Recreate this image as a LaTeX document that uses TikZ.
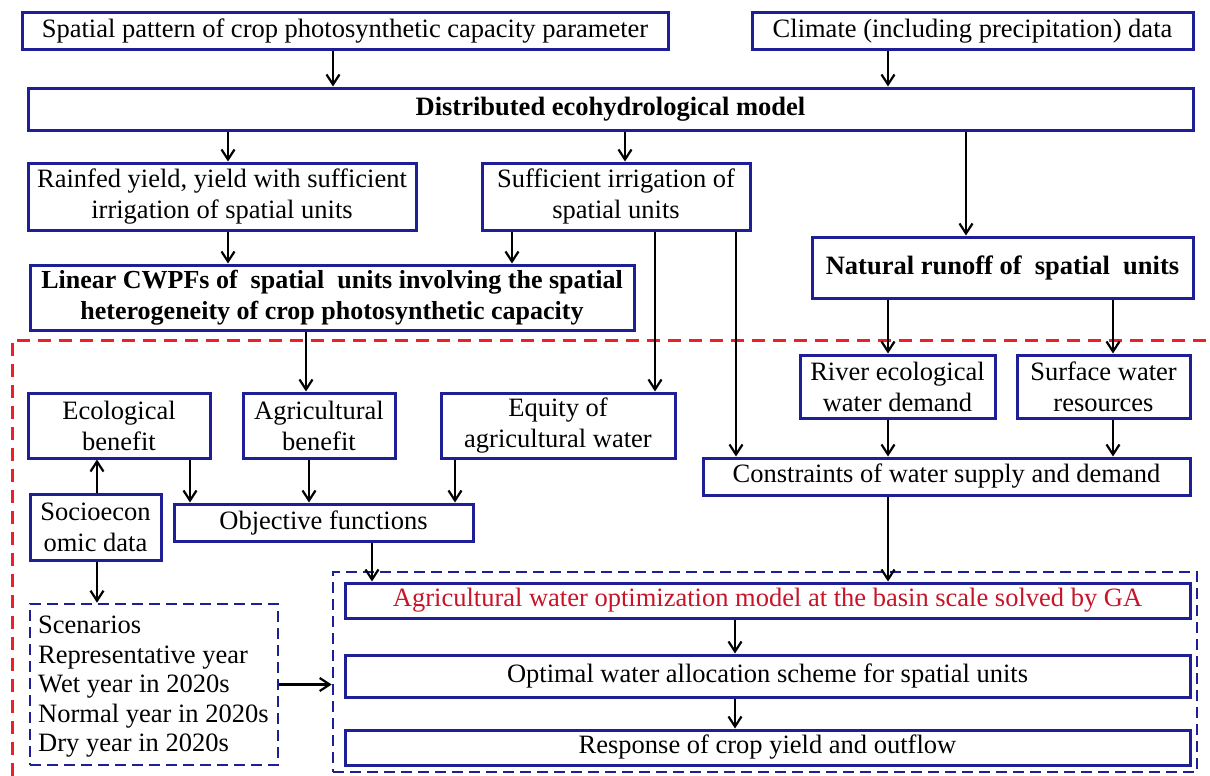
\documentclass[tikz,border=0pt]{standalone}
\usepackage{fontspec}
\setmainfont{Liberation Serif}
\usetikzlibrary{arrows.meta}
\definecolor{boxblue}{RGB}{30,30,150}
\definecolor{dashred}{RGB}{240,30,40}
\definecolor{txtred}{RGB}{200,20,40}
\begin{document}
\begin{tikzpicture}[x=1pt,y=-1pt,
  box/.style={draw=boxblue,line width=3pt,inner sep=0pt,align=center,
    font=\fontsize{26.5}{31}\selectfont},
  dbox/.style={draw=boxblue,line width=2.6pt,dash pattern=on 11pt off 6pt,inner sep=0pt},
  arr/.style={draw=black,line width=2.2pt,-{Straight Barb[length=10pt,width=13pt,line width=2.2pt]}}]
\useasboundingbox (0,0) rectangle (1210,776);
\fill[white] (0,0) rectangle (1210,776);
% red dashed region
\draw[dashred,line width=3pt,dash pattern=on 13pt off 8pt] (12,776) -- (12,340) -- (1210,340);
% nodes
\node[box,minimum width=646,minimum height=37] (spat) at (345,31.5) {Spatial pattern of crop photosynthetic capacity parameter};
\node[box,minimum width=441,minimum height=37] (clim) at (972.5,31.5) {Climate (including precipitation) data};
\node[box,minimum width=1165,minimum height=42] (deh) at (610.5,109) {\bfseries Distributed ecohydrological model};
\node[box,minimum width=388,minimum height=67] (rain) at (222,196.5) {Rainfed yield, yield with sufficient\\irrigation of spatial units};
\node[box,minimum width=268,minimum height=67] (suff) at (616,196.5) {Sufficient irrigation of\\spatial units};
\node[box,minimum width=604,minimum height=65,font=\fontsize{26}{31}\selectfont\bfseries] (cwpf) at (332,297.5) {Linear CWPFs of\ \ spatial\ \ units involving the spatial\\heterogeneity of crop photosynthetic capacity};
\node[box,minimum width=381,minimum height=61] (nat) at (1002.5,267.5) {\bfseries Natural runoff of\ \ spatial\ \ units};
\node[box,minimum width=195,minimum height=63] (river) at (897.5,386.5) {River ecological\\water demand};
\node[box,minimum width=173,minimum height=63] (surf) at (1103.5,386.5) {Surface water\\resources};
\node[box,minimum width=182,minimum height=65] (eco) at (119,425.5) {Ecological\\benefit};
\node[box,minimum width=152,minimum height=65] (agb) at (319,425.5) {Agricultural\\benefit};
\node[box,minimum width=234,minimum height=65] (equ) at (558,425.5) {Equity of\\agricultural water};
\node[box,minimum width=487,minimum height=37] (cons) at (946.5,476.5) {Constraints of water supply and demand};
\node[box,minimum width=131,minimum height=66] (soc) at (95.5,527) {Socioecon\\omic data};
\node[box,minimum width=299,minimum height=37] (obj) at (323.5,522.5) {Objective functions};
\node[dbox,minimum width=864,minimum height=200] (big) at (765,672) {};
\node[box,minimum width=845,minimum height=35,text=txtred] (agw) at (767.5,600.5) {Agricultural water optimization model at the basin scale solved by GA};
\node[box,minimum width=845,minimum height=42] (opt) at (767.5,676) {Optimal water allocation scheme for spatial units};
\node[box,minimum width=845,minimum height=35] (resp) at (767.5,747.5) {Response of crop yield and outflow};
\node[dbox,minimum width=248,minimum height=161] (scen) at (154,684.5) {};
\node[anchor=west,inner sep=0pt,align=left,font=\fontsize{26.5}{29.5}\selectfont] (scentxt) at (38,687) {Scenarios\\Representative year\\Wet year in 2020s\\Normal year in 2020s\\Dry year in 2020s};
% connectors
\draw[arr] (333,0 |- spat.south) -- (333,0 |- deh.north);
\draw[arr] (888,0 |- clim.south) -- (888,0 |- deh.north);
\draw[arr] (228,0 |- deh.south) -- (228,0 |- rain.north);
\draw[arr] (625,0 |- deh.south) -- (625,0 |- suff.north);
\draw[arr] (966,0 |- deh.south) -- (966,0 |- nat.north);
\draw[arr] (228,0 |- rain.south) -- (228,0 |- cwpf.north);
\draw[arr] (512,0 |- suff.south) -- (512,0 |- cwpf.north);
\draw[arr] (655,0 |- suff.south) -- (655,0 |- equ.north);
\draw[arr] (736,0 |- suff.south) -- (736,0 |- cons.north);
\draw[arr] (306,0 |- cwpf.south) -- (306,0 |- agb.north);
\draw[arr] (888,0 |- nat.south) -- (888,0 |- river.north);
\draw[arr] (1113,0 |- nat.south) -- (1113,0 |- surf.north);
\draw[arr] (888,0 |- river.south) -- (888,0 |- cons.north);
\draw[arr] (1113,0 |- surf.south) -- (1113,0 |- cons.north);
\draw[arr] (97,0 |- soc.north) -- (97,0 |- eco.south);
\draw[arr] (190,0 |- eco.south) -- (190,0 |- obj.north);
\draw[arr] (309,0 |- agb.south) -- (309,0 |- obj.north);
\draw[arr] (455,0 |- equ.south) -- (455,0 |- obj.north);
\draw[arr] (97,0 |- soc.south) -- (97,0 |- scen.north);
\draw[arr] (372,0 |- obj.south) -- (372,0 |- agw.north);
\draw[arr] (888,0 |- cons.south) -- (888,0 |- agw.north);
\draw[arr] (735,0 |- agw.south) -- (735,0 |- opt.north);
\draw[arr] (735,0 |- opt.south) -- (735,0 |- resp.north);
\draw[arr] (scen.east) -- (scen.east -| big.west);
\end{tikzpicture}
\end{document}
